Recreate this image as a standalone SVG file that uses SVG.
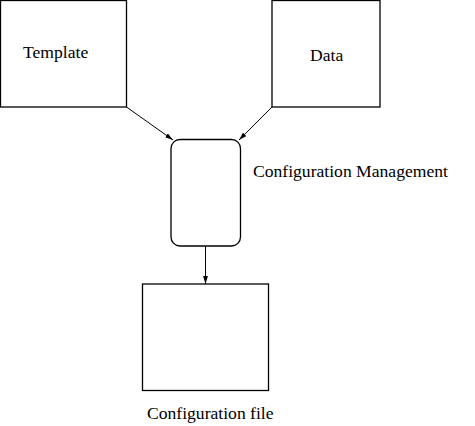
<svg xmlns="http://www.w3.org/2000/svg" width="475" height="426" viewBox="0 0 475 426">
<style>
.box{fill:#fff;stroke:#000;stroke-width:1.3}
.lbl{font-family:"Liberation Serif","Times New Roman",serif;font-size:17.6px;fill:#000}
.conn{stroke:#000;stroke-width:1;fill:none}
</style>
<defs>
<marker id="ah" viewBox="0 0 10 6" refX="10" refY="3" markerWidth="8" markerHeight="5" markerUnits="userSpaceOnUse" orient="auto">
<path d="M0,0 L10,3 L0,6 z" fill="#000"/>
</marker>
</defs>
<rect width="475" height="426" fill="#fff"/>
<g id="template">
<rect class="box" x="0.5" y="0.5" width="126" height="106.5"/>
<text class="lbl" x="23" y="57.5">Template</text>
</g>
<g id="data">
<rect class="box" x="272" y="0.5" width="108" height="106.5"/>
<text class="lbl" x="310" y="61">Data</text>
</g>
<g id="config-mgmt">
<rect class="box" x="171" y="139.5" width="69.5" height="106.5" rx="9" ry="9"/>
<text class="lbl" x="253" y="177">Configuration Management</text>
</g>
<g id="config-file">
<rect class="box" x="142.5" y="284" width="126" height="106.5"/>
<text class="lbl" x="147" y="419">Configuration file</text>
</g>
<g id="connectors">
<line class="conn" x1="126.5" y1="107" x2="173" y2="140" marker-end="url(#ah)"/>
<line class="conn" x1="272" y1="107" x2="239" y2="140" marker-end="url(#ah)"/>
<line class="conn" x1="205.5" y1="246" x2="205.5" y2="284" marker-end="url(#ah)"/>
</g>
</svg>
